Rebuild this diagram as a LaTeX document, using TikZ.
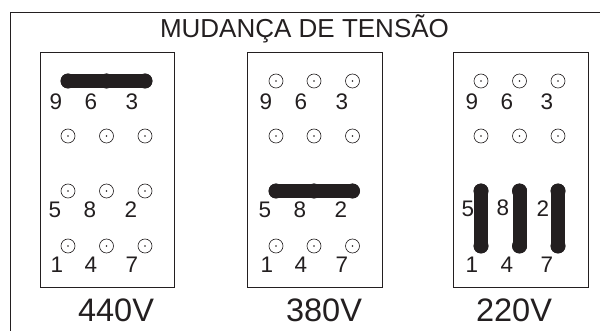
\documentclass[tikz,border=0pt]{standalone}
\usepackage{fontspec}
\setmainfont{Liberation Sans}
\definecolor{ink}{HTML}{231F20}
\tikzset{x=1pt,y=-1pt,
  frameline/.style={draw=ink,line width=0.9pt},
  panelbox/.style={draw=ink,line width=0.9pt,fill=white,minimum width=134.5pt,minimum height=234.5pt,inner sep=0pt},
  terminal/.style={circle,draw=ink,line width=0.6pt,minimum size=14pt,inner sep=0pt,fill=white},
  centerdot/.style={circle,fill=ink,minimum size=1.6pt,inner sep=0pt},
  num/.style={text=ink,font=\fontsize{22.5}{22.5}\selectfont,inner sep=0pt},
  volt/.style={text=ink,font=\fontsize{32.5}{32.5}\selectfont,inner sep=0pt},
  titletext/.style={text=ink,font=\fontsize{26}{26}\selectfont,inner sep=0pt},
  jumper/.style={draw=ink,line width=14pt,line cap=round},
  pad/.style={circle,fill=ink,minimum size=15pt,inner sep=0pt}
}
\newcommand{\termnode}[3]{\node[terminal] (#1) at (#2,#3) {}; \node[centerdot] at (#2,#3) {};}
\begin{document}
\begin{tikzpicture}
\useasboundingbox (0,0) rectangle (600,331);
\fill[white] (0,0) rectangle (600,331);
\draw[frameline] (10,331) -- (10,12.3) -- (600,12.3);
\node[titletext] (title) at (304.5,28.5) {MUDANÇA DE TENSÃO};
% panel boxes
\node[panelbox] (boxA) at (107.2,169.75) {};
\node[panelbox] (boxB) at (315,169.75) {};
\node[panelbox] (boxC) at (520.7,169.75) {};
% panel A terminals
\foreach \n/\x in {a/68,b/106.5,c/145}{
  \foreach \m/\y in {1/81,2/136,3/191,4/246}{\termnode{A\n\m}{\x}{\y}}}
% panel B terminals
\foreach \n/\x in {a/276,b/314,c/352.5}{
  \foreach \m/\y in {1/81,2/136,3/191,4/246}{\termnode{B\n\m}{\x}{\y}}}
% panel C terminals
\foreach \n/\x in {a/481,b/519.5,c/558}{
  \foreach \m/\y in {1/81,2/136,3/191,4/246}{\termnode{C\n\m}{\x}{\y}}}
% jumpers
\foreach \t in {Aa1,Ab1,Ac1,Ba3,Bb3,Bc3,Ca3,Ca4,Cb3,Cb4,Cc3,Cc4}{\node[pad] at (\t) {};}
\draw[jumper] (Aa1.center) -- (Ac1.center);
\draw[jumper] (Ba3.center) -- (Bc3.center);
\draw[jumper] (Ca3.center) -- (Ca4.center);
\draw[jumper] (Cb3.center) -- (Cb4.center);
\draw[jumper] (Cc3.center) -- (Cc4.center);
% labels A
\node[num] (A9) at (56,102) {9}; \node[num] (A6) at (91,102) {6}; \node[num] (A3) at (132,102) {3};
\node[num] (A5) at (55,210) {5}; \node[num] (A8) at (90,210) {8}; \node[num] (A2) at (131,210) {2};
\node[num] (A1) at (57,265) {1}; \node[num] (A4) at (91,265) {4}; \node[num] (A7) at (132,265) {7};
% labels B
\node[num] (B9) at (266,102) {9}; \node[num] (B6) at (301,102) {6}; \node[num] (B3) at (342,102) {3};
\node[num] (B5) at (265,210) {5}; \node[num] (B8) at (300,210) {8}; \node[num] (B2) at (341,210) {2};
\node[num] (B1) at (267,265) {1}; \node[num] (B4) at (301,265) {4}; \node[num] (B7) at (342,265) {7};
% labels C
\node[num] (C9) at (472,102) {9}; \node[num] (C6) at (507,102) {6}; \node[num] (C3) at (547,102) {3};
\node[num] (C5) at (468,209) {5}; \node[num] (C8) at (503,208) {8}; \node[num] (C2) at (543,209) {2};
\node[num] (C1) at (472,265) {1}; \node[num] (C4) at (507,265) {4}; \node[num] (C7) at (547,265) {7};
% voltages
\node[volt] (vA) at (116,310) {440V};
\node[volt] (vB) at (324,310) {380V};
\node[volt] (vC) at (514,310) {220V};
\end{tikzpicture}
\end{document}
